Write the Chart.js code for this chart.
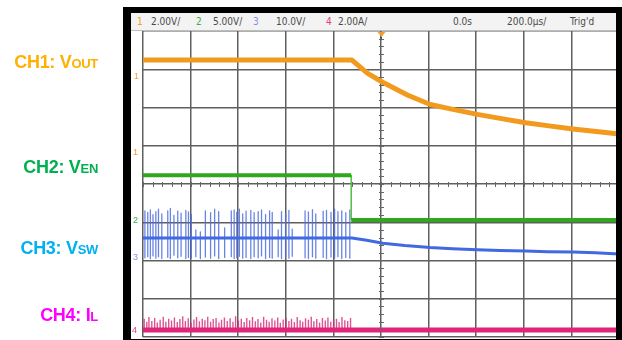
<!DOCTYPE html>
<html>
<head>
<meta charset="utf-8">
<script src="https://cdn.jsdelivr.net/npm/chart.js@4/dist/chart.umd.min.js"></script>
<style>
  html,body{margin:0;padding:0;background:#fff;}
  #wrap{position:relative;width:622px;height:340px;overflow:hidden;background:#fff;font-family:"Liberation Sans",Arial,sans-serif;}
  #c{position:absolute;left:0;top:0;}
  #frame{position:absolute;left:123px;top:7px;width:499px;height:333px;box-sizing:border-box;border-left:8px solid #000;border-top:6px solid #000;border-right:6px solid #000;border-bottom:1px solid #000;pointer-events:none;}
  #hdr{position:absolute;left:131px;top:13px;width:485px;height:17px;background:#f3f3f3;border-bottom:1px solid #bdbdbd;font-family:"Liberation Sans Narrow","DejaVu Sans Condensed","Liberation Sans",sans-serif;font-size:10px;color:#4a4a4a;}
  #hdr span{position:absolute;top:3px;line-height:11px;white-space:nowrap;}
  .lbl{position:absolute;left:0;width:98px;text-align:right;font-weight:bold;font-size:18px;line-height:20px;white-space:nowrap;letter-spacing:-0.3px;}
  .lbl small{font-size:13px;font-weight:bold;}
  .mk{position:absolute;font-size:9px;line-height:10px;font-family:"Liberation Sans Narrow","Liberation Sans",sans-serif;}
</style>
</head>
<body>
<div id="wrap">
  <canvas id="c" width="622" height="340"></canvas>
  <div id="frame"></div>
  <div id="hdr">
    <span style="left:6px;color:#f0a030">1</span>
    <span style="left:20px">2.00V/</span>
    <span style="left:65px;color:#3cae3c">2</span>
    <span style="left:82px">5.00V/</span>
    <span style="left:122px;color:#8c8ce6">3</span>
    <span style="left:145px">10.0V/</span>
    <span style="left:195px;color:#e0407e">4</span>
    <span style="left:207px">2.00A/</span>
    <span style="left:322px">0.0s</span>
    <span style="left:376px">200.0µs/</span>
    <span style="left:439px">Trig'd</span>
  </div>
  <div class="lbl" style="top:52px;color:#FFB000">CH1: V<small>OUT</small></div>
  <div class="lbl" style="top:157px;color:#00B050">CH2: V<small>EN</small></div>
  <div class="lbl" style="top:238px;color:#00B0F0">CH3: V<small>SW</small></div>
  <div class="lbl" style="top:305px;color:#FF00FF">CH4: I<small>L</small></div>
  <div class="mk" style="left:134px;top:71px;color:#f0a030">1</div>
  <div class="mk" style="left:133px;top:147px;color:#f0a030">1</div>
  <div class="mk" style="left:133px;top:215px;color:#3cae3c">2</div>
  <div class="mk" style="left:133px;top:252px;color:#7f8fe0">3</div>
  <div class="mk" style="left:132px;top:325px;color:#e0407e">4</div>
</div>
<script>
// Time axis in microseconds (200 µs/div), vertical axis in screen divisions
const timeTicks = [-1000,-800,-600,-400,-200,0,200,400,600,800,1000];

// CH1 VOUT (divisions)
const ch1Times  = [-1000,-122,-56,7,113,207,302,405,506,608,706,806,905,1000];
const ch1Values = [3.24,3.24,2.89,2.66,2.32,2.08,1.95,1.82,1.71,1.60,1.52,1.44,1.37,1.31];

// CH2 VEN (divisions)
const ch2Times  = [-1000,-125,-125,1000];
const ch2Values = [0.23,0.23,-0.94,-0.94];

// CH3 VSW baseline (divisions)
const ch3Times  = [-1000,-122,-60,8,100,207,300,405,500,608,700,806,900,1000];
const ch3Values = [-1.41,-1.41,-1.47,-1.55,-1.61,-1.66,-1.69,-1.72,-1.74,-1.75,-1.77,-1.78,-1.80,-1.83];

// CH3 switching spikes: time, top, bottom (divisions)
const swTimes   = [-992,-980,-969,-958,-946,-935,-921,-896,-885,-870,-854,-840,-820,-809,-797,-778,-759,-738,-716,-699,-682,-657,-629,-617,-606,-595,-581,-567,-547,-533,-516,-502,-485,-468,-457,-432,-418,-401,-387,-373,-319,-305,-288,-274,-243,-229,-210,-195,-181,-165,-148,-131];
const swTops    = [-0.70,-0.74,-0.68,-0.80,-0.72,-0.66,-0.78,-0.70,-0.64,-0.82,-0.71,-0.76,-0.69,-0.73,-0.80,-1.20,-1.25,-0.70,-0.75,-0.66,-0.72,-1.15,-0.70,-0.68,-0.74,-0.66,-0.78,-0.71,-0.69,-0.75,-0.72,-0.68,-0.80,-0.70,-0.74,-1.20,-0.72,-0.76,-0.69,-1.18,-0.70,-0.73,-0.67,-0.78,-0.71,-0.69,-0.74,-0.66,-0.72,-0.70,-0.75,-0.68];
const swBottoms = [-1.93,-1.90,-1.95,-1.88,-1.94,-1.90,-1.95,-1.92,-1.95,-1.86,-1.93,-1.89,-1.95,-1.92,-1.94,-1.90,-1.95,-1.91,-1.94,-1.88,-1.95,-1.92,-1.90,-1.95,-1.93,-1.89,-1.94,-1.92,-1.95,-1.90,-1.93,-1.88,-1.95,-1.92,-1.94,-1.90,-1.95,-1.91,-1.94,-1.89,-1.93,-1.95,-1.90,-1.94,-1.92,-1.95,-1.91,-1.94,-1.90,-1.95,-1.92,-1.94];

// CH4 IL baseline and ripple peaks (divisions)
const ch4Times  = [-1000,1000];
const ch4Values = [-3.82,-3.82];
const ilTimes = [-995,-984,-975,-963,-951,-940,-928,-915,-904,-892,-880,-868,-856,-845,-833,-822,-810,-798,-786,-775,-763,-751,-740,-728,-716,-705,-693,-681,-670,-658,-646,-634,-622,-611,-599,-587,-575,-564,-552,-540,-528,-517,-505,-493,-481,-470,-458,-446,-434,-423,-411,-399,-387,-376,-364,-352,-340,-329,-317,-305,-293,-282,-270,-258,-246,-234,-223,-211,-199,-187,-176,-164,-152,-140,-128];
const ilPeaks = [-3.52,-3.60,-3.48,-3.58,-3.50,-3.62,-3.55,-3.47,-3.60,-3.52,-3.57,-3.49,-3.61,-3.53,-3.46,-3.58,-3.51,-3.63,-3.54,-3.48,-3.59,-3.52,-3.56,-3.47,-3.60,-3.53,-3.50,-3.62,-3.55,-3.49,-3.58,-3.51,-3.60,-3.46,-3.57,-3.52,-3.61,-3.50,-3.56,-3.48,-3.59,-3.53,-3.62,-3.47,-3.55,-3.60,-3.51,-3.57,-3.49,-3.63,-3.54,-3.50,-3.58,-3.52,-3.61,-3.48,-3.56,-3.60,-3.51,-3.55,-3.47,-3.59,-3.53,-3.62,-3.50,-3.57,-3.49,-3.60,-3.54,-3.52,-3.61,-3.48,-3.56,-3.58,-3.50];

function pts(xs, ys){ return xs.map((x,i)=>({x:x,y:ys[i]})); }
function seg(xs, a, b){ const o=[]; xs.forEach((x,i)=>{o.push({x:x,y:a[i]});o.push({x:x,y:b[i]});o.push({x:x,y:null});}); return o; }
function seg1(xs, base, b){ const o=[]; xs.forEach((x,i)=>{o.push({x:x,y:base});o.push({x:x,y:b[i]});o.push({x:x,y:null});}); return o; }

const ch2Levels = [{x:ch2Times[0],y:ch2Values[0]},{x:ch2Times[1],y:ch2Values[1]},{x:ch2Times[1],y:null},{x:ch2Times[2],y:ch2Values[2]},{x:ch2Times[3],y:ch2Values[3]}];

const scopeDeco = {
  id:'scopeDeco',
  afterDatasetsDraw(chart){
    const {ctx, chartArea:a, scales:{x,y}} = chart;
    const cx = Math.round(x.getPixelForValue(0))+0.5;
    const cy = Math.round(y.getPixelForValue(0))+0.5;
    ctx.save();
    ctx.strokeStyle='#666'; ctx.lineWidth=1;
    ctx.beginPath();
    for(let t=-1000;t<=1000;t+=40){ const px=Math.round(x.getPixelForValue(t))+0.5; ctx.moveTo(px,cy-2.5); ctx.lineTo(px,cy+2.5); }
    for(let v=-4;v<=4;v+=0.2){ const py=Math.round(y.getPixelForValue(v))+0.5; ctx.moveTo(cx-2.5,py); ctx.lineTo(cx+2.5,py); }
    ctx.stroke();
    // trigger marker
    ctx.fillStyle='#f0a030';
    ctx.beginPath(); ctx.moveTo(cx-4,a.top+1); ctx.lineTo(cx+4,a.top+1); ctx.lineTo(cx,a.top+6); ctx.closePath(); ctx.fill();
    ctx.strokeStyle='#555'; ctx.beginPath(); ctx.moveTo(cx,a.top+6); ctx.lineTo(cx,a.top+9); ctx.stroke();
    ctx.restore();
  }
};

const common = {pointRadius:0, tension:0, fill:false, spanGaps:false, borderJoinStyle:'round'};

new Chart(document.getElementById('c'), {
  type:'line',
  data:{ datasets:[
    Object.assign({label:'CH1 VOUT', data:pts(ch1Times,ch1Values), borderColor:'#F29A1E', borderWidth:5}, common),
    Object.assign({label:'CH2 VEN', data:ch2Levels, borderColor:'#2FA81F', borderWidth:4}, common),
    Object.assign({label:'CH2 edge', data:[{x:ch2Times[1],y:ch2Values[1]},{x:ch2Times[2],y:ch2Values[2]}], borderColor:'#5bbf4f', borderWidth:1}, common),
    Object.assign({label:'CH3 VSW', data:pts(ch3Times,ch3Values), borderColor:'#4169E1', borderWidth:3}, common),
    Object.assign({label:'CH4 IL', data:pts(ch4Times,ch4Values), borderColor:'#E0247A', borderWidth:5}, common),
    Object.assign({label:'CH3 spikes', data:seg(swTimes,swTops,swBottoms), borderColor:'rgba(80,110,225,0.85)', borderWidth:1.3}, common),
    Object.assign({label:'CH4 ripple', data:seg1(ilTimes,ch4Values[0],ilPeaks), borderColor:'rgba(215,40,120,0.8)', borderWidth:1.4}, common)
  ]},
  options:{
    responsive:false, animation:false, devicePixelRatio:1,
    layout:{padding:{left:143,top:31,right:3,bottom:3}},
    plugins:{legend:{display:false}, tooltip:{enabled:false}},
    scales:{
      x:{type:'linear', min:-1000, max:1000,
         afterBuildTicks(s){ s.ticks = timeTicks.map(v=>({value:v})); },
         afterFit(s){ s.height=0; },
         ticks:{display:false}, border:{display:false},
         grid:{color:'#5f5f5f', lineWidth:1.5, drawTicks:false}},
      y:{type:'linear', min:-4, max:4,
         ticks:{display:false, stepSize:1}, border:{display:false},
         afterFit(s){ s.width=0; },
         grid:{color:'#5f5f5f', lineWidth:1.5, drawTicks:false}}
    }
  },
  plugins:[scopeDeco]
});
</script>
</body>
</html>
